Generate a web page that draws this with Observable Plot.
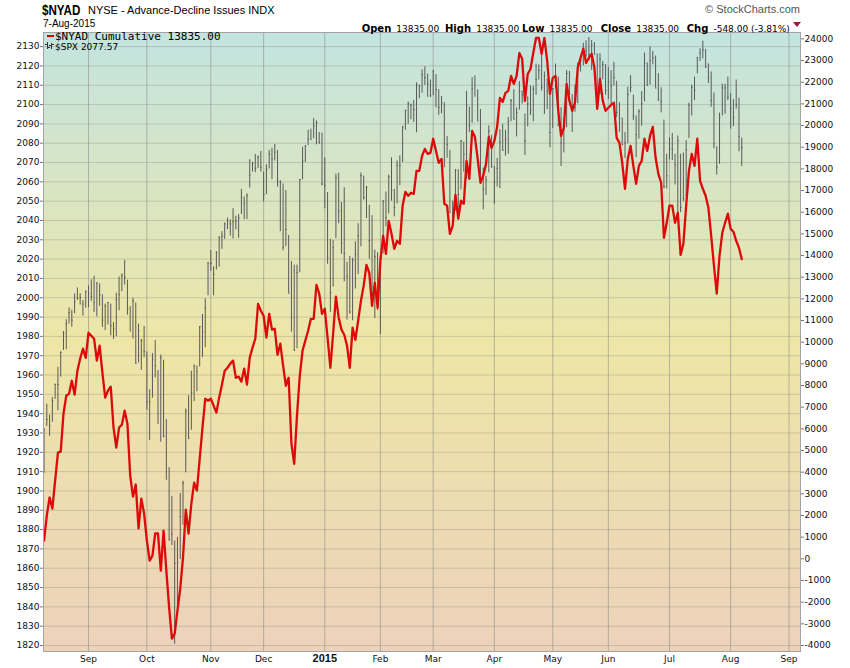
<!DOCTYPE html>
<html><head><meta charset="utf-8">
<script src="https://cdn.jsdelivr.net/npm/d3@7"></script>
<script src="https://cdn.jsdelivr.net/npm/@observablehq/plot@0.6"></script>
<style>
body{margin:0;background:#fff;overflow:hidden;}
#wrap{position:relative;width:850px;height:668px;overflow:hidden;background:#fff;}
#chart{position:absolute;left:0;top:0;}
.abs{position:absolute;white-space:nowrap;line-height:1;}
.hd{font-family:"DejaVu Sans",Verdana,sans-serif;color:#000;}
.hd b{font-size:10px;}
.hd span{font-size:9px;}
.ic{position:absolute;background:#333;}
</style></head><body>
<div id="wrap">
  <div id="chart"></div>
  <div class="abs" style="left:42px;top:3px;font-family:'Liberation Sans',Arial,sans-serif;font-weight:bold;font-size:14px;color:#000;transform:scaleX(0.83);transform-origin:0 0;">$NYAD</div>
  <div class="abs" style="left:88px;top:4.6px;font-family:'Liberation Sans',Arial,sans-serif;font-size:11px;color:#000;">NYSE - Advance-Decline Issues INDX</div>
  <div class="abs" style="left:43px;top:18.5px;font-family:'Liberation Sans',Arial,sans-serif;font-size:10px;color:#000;">7-Aug-2015</div>
  <div class="abs" style="right:50px;top:4.2px;font-family:'Liberation Sans',Arial,sans-serif;font-size:11px;color:#555;">© StockCharts.com</div>
  <div class="abs hd" style="left:361.7px;top:18.5px;"><b>Open</b> <span>13835.00</span></div>
  <div class="abs hd" style="left:445px;top:18.5px;"><b>High</b> <span>13835.00</span></div>
  <div class="abs hd" style="left:522px;top:18.5px;"><b>Low</b> <span>13835.00</span></div>
  <div class="abs hd" style="left:600.7px;top:18.5px;"><b>Close</b> <span>13835.00</span></div>
  <div class="abs hd" style="left:686.7px;top:18.5px;"><b>Chg</b> <span>-548.00 (-3.81%)</span></div>
  <div class="abs" style="left:793px;top:22px;width:0;height:0;border-left:4px solid transparent;border-right:4px solid transparent;border-top:5px solid #9b1b3b;"></div>
  <div class="abs" style="left:46.5px;top:34.5px;width:7px;height:2.5px;background:#d40000;"></div>
  <div class="abs" style="left:55px;top:30.5px;font-family:'DejaVu Sans Mono',monospace;font-size:11px;color:#000;">$NYAD Cumulative 13835.00</div>
  <div class="ic" style="left:47px;top:42px;width:1px;height:7px;"></div>
  <div class="ic" style="left:45px;top:44px;width:2px;height:1px;"></div>
  <div class="ic" style="left:48px;top:47px;width:2px;height:1px;"></div>
  <div class="ic" style="left:51px;top:43px;width:1px;height:6px;"></div>
  <div class="ic" style="left:49px;top:45px;width:2px;height:1px;"></div>
  <div class="ic" style="left:52px;top:44px;width:2px;height:1px;"></div>
  <div class="abs" style="left:55px;top:42.5px;font-family:'DejaVu Sans',Verdana,sans-serif;font-size:9px;color:#000;">$SPX 2077.57</div>
</div>
<script>
// ---- data (trading days from 8-Aug-2014 to 7-Aug-2015) ----
const spxHigh = [
1932.38,1944.90,1939.27,1948.41,1955.23,1964.04,1971.99,1982.57,1988.57,1994.76,1993.54,2001.95,2005.04,2002.14,1998.55,2003.38,
2006.12,2009.28,2011.17,2007.71,2007.17,2001.56,1996.74,1997.45,1996.66,1987.18,2002.33,2010.74,2012.34,2019.26,2009.08,1995.41,1999.79,1997.32,1986.37,1978.48,1985.17,
1971.99,1952.32,1971.20,1977.84,1962.36,1970.36,1967.68,1936.98,1912.09,1897.11,1874.14,1876.01,1898.71,1905.03,1942.45,1949.31,1961.95,1965.27,1964.64,1985.17,1991.40,1999.40,2018.19,
2024.46,2015.98,2023.77,2031.61,2034.26,2038.70,2041.28,2040.33,2046.18,2042.22,2043.07,2056.08,2052.14,2053.84,2071.46,2070.17,2074.21,2073.40,2075.76,
2065.06,2068.77,2076.28,2077.34,2079.47,2076.28,2060.60,2058.90,2055.53,2032.25,2018.69,2016.89,2016.89,2061.23,2077.85,2078.76,2086.73,2087.26,2092.70,2091.55,2085.58,2085.19,
2072.36,2054.44,2030.25,2029.61,2064.08,2064.43,2049.30,2056.93,2018.40,2021.35,2020.46,2028.94,2038.29,2064.62,2062.98,2057.62,2047.86,2042.49,2024.64,2023.32,
2021.66,2050.30,2054.74,2063.55,2072.40,2056.16,2070.86,2073.48,2088.53,2097.03,2101.30,2100.23,2102.13,2111.26,2110.05,2117.94,2119.59,2115.76,2112.74,
2117.52,2115.48,2107.72,2104.25,2100.91,2083.49,2076.19,2050.08,2066.41,2066.28,2081.41,2080.59,2106.85,2098.69,2113.92,2114.86,2107.63,2097.43,2067.15,2062.83,2088.97,2084.05,
2067.96,2072.17,2086.99,2089.81,2086.69,2093.31,2102.61,2107.65,2098.27,2111.91,2107.04,2095.11,2103.94,2109.64,2109.48,2120.92,2120.49,2125.92,2116.87,2113.24,2105.13,
2108.41,2120.95,2114.24,2098.42,2092.90,2117.66,2117.20,2105.06,2110.19,2121.45,2123.89,2131.78,2133.02,2134.72,2133.15,2132.15,2126.22,2126.33,2122.27,2120.66,
2119.15,2117.59,2121.92,2112.09,2100.99,2093.01,2085.62,2108.99,2115.02,2104.89,2094.10,2097.40,2106.79,2126.65,2121.64,2129.87,2127.42,2125.10,2116.04,2108.70,2091.91,2074.28,
2082.78,2085.05,2074.24,2083.74,2074.29,2074.91,2081.31,2100.67,2110.05,2114.24,2124.42,2128.91,2132.82,2128.57,2121.07,2116.87,2106.01,2078.10,2095.60,2110.60,2110.48,2114.24,
2105.70,2102.52,2112.66,2103.32,2082.61];
const spxLow = [
1909.01,1933.43,1928.29,1935.60,1947.41,1941.50,1958.89,1972.73,1973.17,1986.37,1984.76,1991.74,1998.59,1996.20,1990.52,1994.65,
1994.85,1998.14,1992.44,1990.10,1995.60,1984.61,1982.99,1985.93,1980.26,1978.48,1979.84,1993.29,2003.07,2006.59,1991.01,1982.77,1978.63,1965.99,1966.22,1962.42,1968.96,
1941.72,1926.03,1948.04,1958.43,1935.10,1925.25,1927.56,1906.05,1874.14,1871.79,1820.66,1835.02,1864.55,1882.30,1909.38,1926.83,1931.44,1946.27,1951.37,1964.14,1969.04,1974.20,2001.01,
2013.68,2001.01,2014.42,2015.86,2025.07,2030.17,2035.28,2031.95,2030.44,2035.20,2030.75,2043.08,2040.37,2040.49,2056.75,2065.12,2064.75,2066.85,2065.06,
2049.57,2053.44,2066.65,2061.14,2070.81,2057.27,2034.17,2024.26,2026.41,2002.33,1982.26,1972.56,1973.63,2012.97,2061.03,2069.99,2078.77,2081.86,2082.28,2079.19,2079.47,2057.94,
2046.04,2017.34,1992.44,2005.55,2030.61,2038.33,2022.58,2008.25,1988.44,1991.47,1988.12,2004.49,2012.04,2026.38,2050.54,2040.97,2019.91,2001.49,1989.18,1993.38,
1980.90,2022.71,2036.72,2043.45,2049.97,2041.88,2048.62,2057.99,2069.98,2086.70,2089.80,2092.15,2090.79,2085.44,2103.00,2105.87,2109.89,2103.76,2103.75,
2104.50,2098.26,2094.49,2095.22,2067.27,2072.21,2044.16,2039.69,2045.05,2045.50,2055.85,2065.08,2061.23,2085.56,2090.32,2104.42,2091.50,2061.05,2045.50,2052.96,2064.63,2067.04,
2048.38,2057.32,2056.52,2076.10,2073.30,2074.29,2091.11,2092.33,2083.24,2097.10,2100.30,2073.61,2088.48,2094.38,2091.05,2104.89,2112.67,2107.04,2094.89,2097.41,2077.59,
2087.59,2108.29,2088.57,2067.93,2074.99,2088.00,2104.58,2085.57,2096.04,2100.43,2116.81,2120.01,2124.50,2122.59,2117.69,2126.06,2099.18,2105.13,2112.86,2104.89,
2102.54,2099.14,2109.61,2093.23,2085.67,2079.11,2072.14,2079.76,2106.13,2091.70,2072.49,2082.10,2088.86,2101.43,2109.45,2110.06,2120.66,2108.58,2101.78,2095.73,2056.33,2056.32,
2071.38,2071.02,2058.40,2044.02,2044.02,2049.70,2052.26,2082.41,2094.08,2102.07,2115.85,2122.34,2123.66,2119.21,2110.92,2098.63,2077.09,2063.52,2069.09,2094.08,2094.97,2102.07,
2087.31,2088.60,2097.64,2075.53,2067.91];
const spxClose = [
1931.59,1936.92,1933.75,1946.72,1955.18,1955.06,1971.74,1981.60,1986.51,1992.37,1988.40,1997.92,2000.02,2000.12,1996.74,2003.37,
2002.28,2000.72,1997.65,2007.71,2001.54,1988.44,1995.69,1997.45,1985.54,1984.13,1998.98,2001.57,2011.36,2010.40,1994.29,1982.77,1998.30,1965.99,1982.85,1977.80,1972.29,
1946.16,1946.17,1967.90,1964.82,1935.10,1968.89,1928.21,1906.13,1874.74,1877.70,1862.49,1862.76,1886.76,1904.01,1941.28,1927.11,1950.82,1964.58,1961.63,1985.05,1982.30,1994.65,2018.05,
2017.81,2012.10,2023.57,2031.21,2031.92,2038.26,2039.68,2038.25,2039.33,2039.82,2041.32,2051.80,2048.72,2052.75,2063.50,2069.41,2067.03,2072.83,2067.56,
2053.44,2066.55,2074.33,2071.92,2075.37,2060.31,2059.82,2026.14,2035.33,2002.33,1989.63,1972.74,2012.89,2061.23,2070.65,2078.54,2082.17,2081.88,2088.77,2090.57,2080.35,2058.90,
2058.20,2020.58,2002.61,2025.90,2062.14,2044.81,2028.26,2023.03,2011.27,1992.67,2019.42,2022.55,2032.12,2063.15,2051.82,2057.09,2029.55,2002.16,2021.25,1994.99,
2020.85,2050.03,2041.51,2062.52,2055.47,2046.74,2068.59,2068.53,2088.48,2096.99,2100.34,2099.68,2097.45,2110.30,2109.66,2115.48,2113.86,2110.74,2104.50,
2117.39,2107.78,2098.53,2101.04,2071.26,2079.43,2044.16,2040.24,2065.95,2053.40,2081.19,2074.28,2099.50,2089.27,2108.10,2104.42,2091.50,2061.05,2056.15,2061.02,2086.24,2067.89,
2059.69,2066.96,2080.62,2076.33,2081.90,2091.18,2102.06,2092.43,2095.84,2106.63,2104.99,2081.18,2100.40,2097.29,2107.96,2112.93,2117.69,2108.92,2114.76,2106.85,2085.51,
2108.29,2114.49,2089.46,2080.15,2088.00,2116.10,2105.33,2099.12,2098.48,2121.10,2122.73,2129.20,2127.83,2125.85,2130.82,2126.06,2104.20,2123.48,2120.79,2107.39,
2111.73,2109.60,2114.07,2095.84,2092.83,2079.28,2080.15,2105.20,2108.86,2094.11,2084.43,2096.29,2100.44,2121.24,2109.99,2122.85,2124.20,2108.58,2102.31,2101.49,2057.64,2063.11,
2077.42,2076.78,2068.76,2081.34,2046.68,2051.31,2076.62,2099.60,2108.95,2107.40,2124.29,2126.64,2128.28,2119.21,2114.15,2102.15,2079.65,2067.64,2093.25,2108.57,2108.63,2103.84,
2098.04,2093.32,2099.84,2083.56,2077.57];
const nyadCumulative = [
840,2000,2830,2320,3610,4900,4950,6700,7530,7620,
8220,7580,8680,9240,9700,9280,10440,10300,10160,9150,
9840,8590,7440,7760,7950,6060,5130,6060,6190,6840,
6240,3840,2870,3430,1400,2780,2090,840,-80,150,
1170,1170,-540,1300,-540,-2250,-3680,-3450,-2390,-1370,
60,2270,1170,2550,3520,3150,4630,6060,7390,7300,
7390,7070,6750,7440,8040,8680,8820,9010,9150,8360,
8410,8180,8780,8040,9280,9750,10160,11770,11450,11220,
10210,11310,10580,10620,9420,9930,8920,7990,8360,5320,
4390,6610,8450,9610,10070,10530,11080,11080,12650,12240,
11310,11540,10210,8820,10390,12100,11130,10580,10340,9840,
8820,10670,10110,10990,11910,12610,13570,13200,11680,12740,
11590,13760,14910,14080,15600,15000,14310,14680,14540,16300,
16940,16760,16890,16850,17910,17910,18600,18920,18690,18740,
19390,18830,18280,18460,16390,16300,15000,15370,16800,15700,
16530,16390,18370,17540,19750,19480,18460,17360,17680,18230,
19480,18970,19290,19940,21280,21090,21510,21600,22290,21920,
22290,23350,23080,21140,22380,22610,23350,24040,24040,23310,
24040,22980,21460,22200,22290,20680,19520,19890,21920,21140,
20680,21050,22660,23120,23540,22890,23120,23310,22660,20770,
22150,21140,20680,20820,20950,21050,19430,19200,18280,17080,
18460,19060,18140,17310,18140,18370,19390,18830,19520,19940,
18510,17770,17360,14820,15510,16300,16300,15510,15970,14030,
14540,16300,17910,18690,18140,19390,17450,17080,16760,16200,
14910,13530,12240,13990,15050,15510,15930,15230,15100,14680,
14360,13835];
const monthLabels = ["Sep","Oct","Nov","Dec","2015","Feb","Mar","Apr","May","Jun","Jul","Aug","Sep"];
const monthStartDay = [16,37,60,79,101,121,140,162,183,203,225,247,268]; // trading-day index of each month's first session
const spxTicks = d3.range(1820, 2131, 10);
const nyadTicks = d3.range(-4000, 24001, 1000);
const spxDomain = [1816.9, 2137.3];
const dayDomain = [-0.19, 272.13];
// right axis (NYAD) is aligned to the left (SPX) axis: -4000 <-> 1820, 24000 <-> 2134.0
const nyToSpx = d3.scaleLinear().domain([-4000, 24000]).range([1820, 2134.0]);

const spx = spxClose.map((c, i) => ({i, high: spxHigh[i], low: spxLow[i], close: c}));
const nyad = nyadCumulative.map((v, i) => ({i, v, y: nyToSpx(v)}));
const months = monthLabels.map((label, k) => ({label, i: monthStartDay[k]}));
const labelOf = new Map(months.map(d => [d.i, d.label]));

const tickFont = "'DejaVu Sans', Verdana, sans-serif";
const chart = Plot.plot({
  width: 850, height: 668,
  marginLeft: 43, marginRight: 50, marginTop: 32, marginBottom: 17,
  style: {background: "transparent", color: "#111", fontFamily: tickFont, fontSize: "9px"},
  x: {domain: dayDomain, axis: null, label: null},
  y: {domain: spxDomain, axis: null, label: null},
  marks: [
    Plot.frame({fill: "url(#bgGrad)", stroke: "none"}),
    Plot.gridY(spxTicks, {stroke: "#8c8a78", strokeOpacity: 0.35, strokeWidth: 1}),
    Plot.gridX(monthStartDay, {stroke: "#7f7f7f", strokeOpacity: 0.5, strokeWidth: 1}),
    Plot.ruleX(spx, {x: "i", y1: "low", y2: "high", stroke: "#5a5a5a", strokeWidth: 1}),
    Plot.ruleY(spx, {x1: "i", x2: d => d.i + 0.5, y: "close", stroke: "#5a5a5a", strokeWidth: 1}),
    Plot.line(nyad, {x: "i", y: "y", stroke: "#dd0a0a", strokeWidth: 2.3, curve: "linear"}),
    Plot.frame({stroke: "#a3a3a3", strokeWidth: 1}),
    Plot.axisY(spxTicks, {anchor: "left", label: null, tickSize: 3, tickPadding: 1, stroke: "#777", tickFormat: d => String(d), fontFamily: tickFont, fontSize: 9}),
    Plot.axisY(nyadTicks.map(v => nyToSpx(v)), {anchor: "right", label: null, tickSize: 3, tickPadding: 1, stroke: "#777", tickFormat: d => String(Math.round(nyToSpx.invert(d))), fontFamily: tickFont, fontSize: 9}),
    Plot.axisX(months.filter(d => d.label !== "2015").map(d => d.i), {anchor: "bottom", label: null, tickSize: 0, tickPadding: 4, tickFormat: i => labelOf.get(i), fontFamily: tickFont, fontSize: 9}),
    Plot.axisX(months.filter(d => d.label === "2015").map(d => d.i), {anchor: "bottom", label: null, tickSize: 0, tickPadding: 3, tickFormat: i => labelOf.get(i), fontFamily: "'Liberation Sans', Arial, sans-serif", fontWeight: "bold", fontSize: 11})
  ]
});
const defs = document.createElementNS("http://www.w3.org/2000/svg", "defs");
defs.innerHTML = '<linearGradient id="bgGrad" x1="0" y1="0" x2="0" y2="1">' +
  '<stop offset="0" stop-color="#c3e4e0"/>' +
  '<stop offset="0.5" stop-color="#eee6a7"/>' +
  '<stop offset="1" stop-color="#ecd2bb"/></linearGradient>';
chart.insertBefore(defs, chart.firstChild);
document.getElementById("chart").appendChild(chart);
</script>
</body></html>
